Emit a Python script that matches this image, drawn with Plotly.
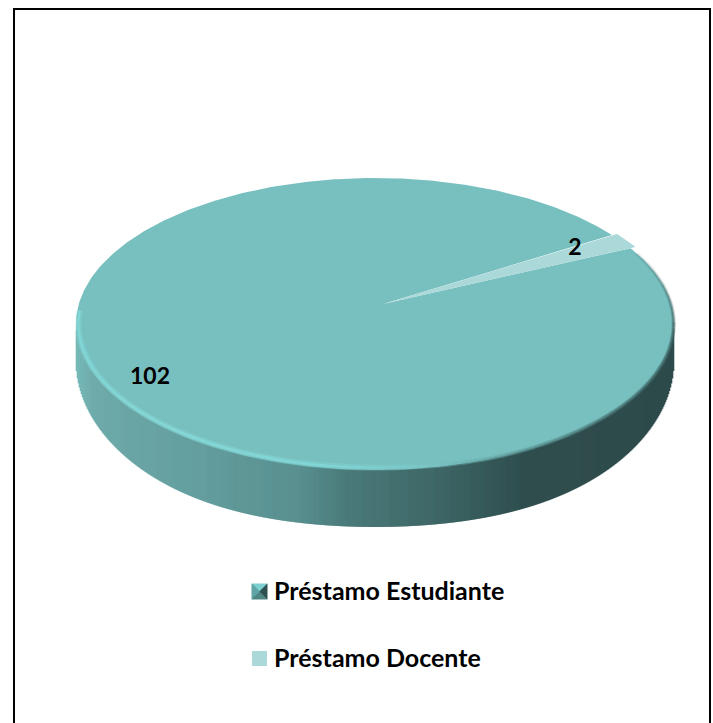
import numpy as np
import plotly.graph_objects as go

categories = ["Préstamo Estudiante", "Préstamo Docente"]
values = [102, 2]
value_labels = [str(v) for v in values]

W, H = 713, 723
CX, CY, RX, RY = 375, 324, 299, 146
TIP = np.array([383.0, 304.0])
ROT_DEG = 32.0  # ccw angle from +x where the small slice starts (clockwise slices)
COL_MAIN = "#78BFBF"
COL_SMALL = "#ABD8D8"
TXT = "#000000"
FONT = "Lato"


def persp(phi):
    """Map an angle on the true circle to the projected (perspective) ellipse edge."""
    p = np.array([(TIP[0] - CX) / RX, (TIP[1] - CY) / RY])
    a = np.hypot(*p)
    d = p / a
    n = np.array([-d[1], d[0]])
    X, Y = np.cos(phi), -np.sin(phi)
    s = X * d[0] + Y * d[1]
    t = X * n[0] + Y * n[1]
    s2 = (s + a) / (1 + a * s)
    t2 = t * np.sqrt(1 - a * a) / (1 + a * s)
    return CX + RX * (s2 * d[0] + t2 * n[0]), CY + RY * (s2 * d[1] + t2 * n[1])


def lerp_color(stops, x):
    xs = [s[0] for s in stops]
    cs = np.array([[int(s[1][i:i + 2], 16) for i in (1, 3, 5)] for s in stops], float)
    return tuple(np.interp(x, xs, cs[:, k]) for k in range(3))


SIDE_STOPS = [(76, "#78BABA"), (95, "#6FABAB"), (200, "#659F9F"), (300, "#5A9090"),
              (345, "#4C7C7C"), (440, "#3F6767"), (520, "#315050"), (674, "#2F4B4B")]

fig = go.Figure()

# side wall: vertical bands between the front edges of the top and bottom outlines
bands = {}
for x in np.arange(CX - RX + 0.5, CX + RX, 1.0):
    u = np.sqrt(max(0.0, 1 - ((x - CX) / RX) ** 2))
    y0 = CY + RY * u - 3
    y1 = 361 + 174 * u - 8 * u ** 6
    r, g, b = lerp_color(SIDE_STOPS, x)
    key = (int(r) // 2 * 2, int(g) // 2 * 2, int(b) // 2 * 2)
    xs, ys = bands.setdefault(key, ([], []))
    xs += [x, x, None]
    ys += [y0, max(y0, y1), None]
for key, (xs, ys) in bands.items():
    fig.add_trace(go.Scatter(x=xs, y=ys, mode="lines", showlegend=False, hoverinfo="skip",
                             line=dict(color="rgb(%d,%d,%d)" % key, width=1.6)))

# top face: slices built from the values
total = sum(values)
a_small = np.deg2rad(360 * values[1] / total)
start = np.deg2rad(ROT_DEG)
phi_main = np.linspace(start - a_small, start - 2 * np.pi, 500)
mx, my = persp(phi_main)
fig.add_trace(go.Scatter(x=np.r_[TIP[0], mx, TIP[0]], y=np.r_[TIP[1], my, TIP[1]],
                         mode="lines", fill="toself", fillcolor=COL_MAIN,
                         line=dict(width=0), showlegend=False, hoverinfo="skip"))
phi_small = np.linspace(start, start - a_small, 30)
sx, sy = persp(phi_small)
sx = TIP[0] + (sx - TIP[0]) * 1.02
sy = TIP[1] + (sy - TIP[1]) * 1.02
fig.add_trace(go.Scatter(x=np.r_[TIP[0], sx, TIP[0]], y=np.r_[TIP[1], sy, TIP[1]],
                         mode="lines", fill="toself", fillcolor=COL_SMALL,
                         line=dict(width=0), showlegend=False, hoverinfo="skip"))

# bevel: bright inset highlight on the left/front, soft dark blur towards the right
RIM_STOPS = [(76, "#86DCDC"), (150, "#8ADFDF"), (330, "#86DCDC"), (430, "#7CC6C6"),
             (520, "#5F9A9A"), (600, "#4D7C7C"), (674, "#3F6565")]
th = np.linspace(np.pi * 1.03, -np.pi * 0.16, 100)
for i in range(len(th) - 1):
    t = np.linspace(th[i], th[i + 1], 4)
    mid_x = CX + RX * np.cos(t.mean())
    inset = float(np.interp(mid_x, [400, 490], [2.5, 0.3]))
    fade = 1.0 if t.mean() > 0 else float(np.interp(t.mean(), [-np.pi * 0.16, 0], [0.15, 0.8]))
    ex, ey = CX + (RX - inset) * np.cos(t), CY + (RY - inset) * np.sin(t)
    r, g, b = lerp_color(RIM_STOPS, ex.mean())
    col = "rgb(%d,%d,%d)" % (r, g, b)
    soft = float(np.interp(mid_x, [400, 490], [6, 4]))
    fig.add_trace(go.Scatter(x=ex, y=ey, mode="lines", showlegend=False, hoverinfo="skip",
                             opacity=0.4 * fade, line=dict(color=col, width=soft)))
    fig.add_trace(go.Scatter(x=ex, y=ey, mode="lines", showlegend=False, hoverinfo="skip",
                             opacity=0.7 * fade, line=dict(color=col, width=2.2)))

# value labels
LABEL_XY = [(150, 378), (575, 249)]
fig.add_trace(go.Scatter(x=[p[0] for p in LABEL_XY], y=[p[1] for p in LABEL_XY],
                         mode="text", text=value_labels, showlegend=False, hoverinfo="skip",
                         textfont=dict(family=FONT, size=23, color=TXT, weight=700)))

# key: swatches and names
KEY_XY = [(259.5, 591.5), (259.5, 658.5)]
KEY_TEXT_XY = [(274, 594), (274, 661)]
fig.add_trace(go.Scatter(x=[p[0] for p in KEY_XY], y=[p[1] for p in KEY_XY],
                         mode="markers",
                         marker=dict(symbol="square", size=15, color=["#4E8686", COL_SMALL]),
                         showlegend=False, hoverinfo="skip"))
fig.add_trace(go.Scatter(x=[p[0] for p in KEY_TEXT_XY], y=[p[1] for p in KEY_TEXT_XY],
                         mode="text", text=categories, textposition="middle right",
                         showlegend=False, hoverinfo="skip",
                         textfont=dict(family=FONT, size=25, color=TXT, weight=700)))

kx, ky = KEY_XY[0]
h = 8
tris = [((kx - h, ky - h), (kx + h, ky - h), "#7CCFCF"),
        ((kx - h, ky + h), (kx + h, ky + h), "#4F8585"),
        ((kx - h, ky - h), (kx - h, ky + h), "#5FA5A5"),
        ((kx + h, ky - h), (kx + h, ky + h), "#2F5050")]
shapes = [dict(type="path", path=f"M{a[0]},{a[1]} L{b[0]},{b[1]} L{kx},{ky} Z",
               fillcolor=c, line=dict(width=0), xref="x", yref="y", layer="above")
          for a, b, c in tris]
# outer frame
shapes.append(dict(type="rect", x0=14, x1=710, y0=9, y1=740, xref="x", yref="y",
                   line=dict(color="#000000", width=2), fillcolor="rgba(0,0,0,0)", layer="below"))

fig.update_layout(
    width=W, height=H, margin=dict(l=0, r=0, t=0, b=0), showlegend=False,
    paper_bgcolor="#FFFFFF", plot_bgcolor="#FFFFFF", shapes=shapes,
    xaxis=dict(range=[0, W], visible=False, fixedrange=True),
    yaxis=dict(range=[H, 0], visible=False, fixedrange=True),
)
fig.write_html("out.html", config=dict(displayModeBar=False),
               post_script="document.body.style.margin='0';")
